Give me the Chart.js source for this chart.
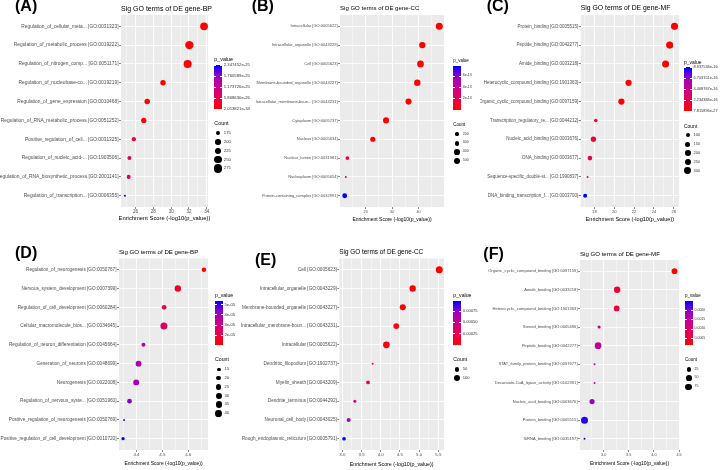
<!DOCTYPE html>
<html><head><meta charset="utf-8">
<script src="https://cdn.jsdelivr.net/npm/chart.js@4/dist/chart.umd.min.js"></script>
<style>
html,body{margin:0;padding:0;background:#fff}
body{width:720px;height:470px;position:relative;overflow:hidden;font-family:"Liberation Sans",Arial,sans-serif}
.panel{position:absolute;width:240px;height:235px;overflow:visible}
.panel canvas{position:absolute;left:0;top:0}
.t{position:absolute;white-space:nowrap;line-height:1;color:#000}
.plab{font-weight:bold;font-size:16px}
.axt{transform:translateX(-50%)}
.lgl{color:#333}
.bar{position:absolute;background:linear-gradient(to top,#FF0000 0%,#E8004F 25%,#C90089 50%,#9900C3 75%,#0000FF 100%)}
.btk{position:absolute;height:0.6px;background:#fff}
.dot{position:absolute;background:#000;border-radius:50%}
</style></head>
<body>
<script>
// ---------------- DATA ----------------
// Panel A : BP
const termsA = ["Regulation_of_cellular_meta... [GO:0031323]","Regulation_of_metabolic_process [GO:0019222]","Regulation_of_nitrogen_comp... [GO:0051171]","Regulation_of_nucleobase-co... [GO:0019219]","Regulation_of_gene_expression [GO:0010468]","Regulation_of_RNA_metabolic_process [GO:0051252]","Positive_regulation_of_cell... [GO:0031325]","Regulation_of_nucleic_acid-... [GO:1903506]","Regulation_of_RNA_biosynthetic_process [GO:2001141]","Regulation_of_transcription... [GO:0006355]"];
const scoreA = [33.69, 32.04, 31.85, 29.08, 27.31, 26.92, 25.81, 25.31, 25.23, 24.81];
const pvalA  = [2.013821e-34, 1.5e-32, 3.4e-32, 8.3e-30, 4.9e-28, 1.2e-27, 3.5e-26, 7.0e-26, 7.6e-26, 2.347452e-25];
const countA = [262, 285, 272, 200, 202, 196, 180, 177, 177, 165];
const tickValsA = [26, 28, 30, 32, 34];
const tickLabsA = ["26", "28", "30", "32", "34"];
const minorA = [25, 27, 29, 31, 33];
const pBreaksA = [2.013821e-34, 5.868630e-26, 1.173726e-25, 1.760589e-25, 2.347452e-25];
const pLabsA = ["2.013821e-34", "5.868630e-26", "1.173726e-25", "1.760589e-25", "2.347452e-25"];
const countLegA = [175, 200, 225, 250, 275];

// Panel B : CC
const termsB = ["Intracellular [GO:0005622]","Intracellular_organelle [GO:0043229]","Cell [GO:0005623]","Membrane-bounded_organelle [GO:0043227]","Intracellular_membrane-boun... [GO:0043231]","Cytoplasm [GO:0005737]","Nucleus [GO:0005634]","Nuclear_lumen [GO:0031981]","Nucleoplasm [GO:0005654]","Protein-containing_complex [GO:0032991]"];
const scoreB = [47.8, 41.4, 40.7, 39.5, 36.2, 27.7, 22.7, 13.1, 12.5, 12.1];
const pvalB  = [1.6e-48, 4.0e-42, 1.8e-41, 3.2e-40, 6.3e-37, 2.0e-28, 1.9e-23, 1.0e-13, 4.0e-13, 7.77e-13];
const countB = [605, 500, 550, 500, 455, 452, 335, 200, 147, 303];
const tickValsB = [20, 30, 40];
const tickLabsB = ["20", "30", "40"];
const minorB = [15, 25, 35, 45];
const pBreaksB = [2e-13, 4e-13, 6e-13];
const pLabsB = ["2e-13", "4e-13", "6e-13"];
const countLegB = [200, 300, 400, 500];

// Panel C : MF
const termsC = ["Protein_binding [GO:0005515]","Peptide_binding [GO:0042277]","Amide_binding [GO:0033218]","Heterocyclic_compound_binding [GO:1901363]","Organic_cyclic_compound_binding [GO:0097159]","Transcription_regulatory_re... [GO:0044212]","Nucleic_acid_binding [GO:0003676]","DNA_binding [GO:0003677]","Sequence-specific_double-st... [GO:1990837]","DNA_binding_transcription_f... [GO:0003700]"];
const scoreC = [26.07, 25.58, 25.17, 21.44, 20.72, 18.14, 17.90, 17.55, 17.31, 17.07];
const pvalC  = [7.815896e-27, 2.6e-26, 6.8e-26, 3.6e-22, 1.9e-21, 8.0e-17, 1.3e-16, 2.2e-16, 3.9e-16, 8.937534e-16];
const countC = [330, 318, 312, 239, 235, 76, 168, 129, 55, 99];
const tickValsC = [18, 20, 22, 24, 26];
const tickLabsC = ["18", "20", "22", "24", "26"];
const minorC = [17, 19, 21, 23, 25];
const pBreaksC = [7.815896e-27, 2.234384e-16, 4.468767e-16, 6.703151e-16, 8.937534e-16];
const pLabsC = ["7.815896e-27", "2.234384e-16", "4.468767e-16", "6.703151e-16", "8.937534e-16"];
const countLegC = [100, 150, 200, 250, 300];

// Panel D : BP
const termsD = ["Regulation_of_neurogenesis [GO:0050767]","Nervous_system_development [GO:0007399]","Regulation_of_cell_development [GO:0060284]","Cellular_macromolecule_bios... [GO:0034645]","Regulation_of_neuron_differentiation [GO:0045664]","Generation_of_neurons [GO:0048699]","Neurogenesis [GO:0022008]","Regulation_of_nervous_syste... [GO:0051960]","Positive_regulation_of_neurogenesis [GO:0050769]","Positive_regulation_of_cell_development [GO:0010720]"];
const scoreD = [4.661, 4.560, 4.507, 4.506, 4.427, 4.408, 4.399, 4.373, 4.352, 4.348];
const pvalD  = [1.00e-05, 1.52e-05, 2.05e-05, 2.45e-05, 3.60e-05, 3.90e-05, 4.00e-05, 4.45e-05, 5.02e-05, 5.37e-05];
const countD = [20, 36, 21, 43, 17, 30, 31, 21, 12, 14];
const tickValsD = [4.4, 4.5, 4.6];
const tickLabsD = ["4.4", "4.5", "4.6"];
const minorD = [4.35, 4.45, 4.55, 4.65];
const pBreaksD = [2e-5, 3e-5, 4e-5, 5e-5];
const pLabsD = ["2e-05", "3e-05", "4e-05", "5e-05"];
const countLegD = [15, 20, 25, 30, 35, 40];

// Panel E : CC
const termsE = ["Cell [GO:0005623]","Intracellular_organelle [GO:0043229]","Membrane-bounded_organelle [GO:0043227]","Intracellular_membrane-boun... [GO:0043231]","Intracellular [GO:0005622]","Dendritic_filopodium [GO:1902737]","Myelin_sheath [GO:0043209]","Dendrite_terminus [GO:0044292]","Neuronal_cell_body [GO:0043025]","Rough_endoplasmic_reticulum [GO:0005791]"];
const scoreE = [5.525, 4.832, 4.575, 4.404, 4.147, 3.788, 3.668, 3.325, 3.163, 3.043];
const pvalE  = [3.0e-06, 1.5e-05, 2.7e-05, 3.9e-05, 7.1e-05, 1.5e-04, 2.0e-04, 4.4e-04, 6.8e-04, 9.7e-04];
const countE = [135, 105, 92, 81, 119, 6, 21, 12, 27, 21];
const tickValsE = [3.0, 3.5, 4.0, 4.5, 5.0, 5.5];
const tickLabsE = ["3.0", "3.5", "4.0", "4.5", "5.0", "5.5"];
const minorE = [3.25, 3.75, 4.25, 4.75, 5.25];
const pBreaksE = [2.5e-4, 5.0e-4, 7.5e-4];
const pLabsE = ["0.00025", "0.00050", "0.00075"];
const countLegE = [50, 100];

// Panel F : MF
const termsF = ["Organic_cyclic_compound_binding [GO:0097159]","Amide_binding [GO:0033218]","Heterocyclic_compound_binding [GO:1901363]","Steroid_binding [GO:0005496]","Peptide_binding [GO:0042277]","STAT_family_protein_binding [GO:0097677]","Decanoate-CoA_ligase_activity [GO:0102391]","Nucleic_acid_binding [GO:0003676]","Protein_binding [GO:0005515]","SiRNA_binding [GO:0035197]"];
const scoreF = [4.41, 3.27, 3.26, 2.91, 2.89, 2.82, 2.82, 2.77, 2.62, 2.62];
const pvalF  = [1.4e-04, 5.6e-04, 6.2e-04, 1.04e-03, 1.44e-03, 1.25e-03, 1.27e-03, 1.90e-03, 2.38e-03, 2.50e-03];
const countF = [53, 69, 53, 8, 78, 4, 4, 38, 88, 4];
const tickValsF = [3.0, 3.5, 4.0, 4.5];
const tickLabsF = ["3.0", "3.5", "4.0", "4.5"];
const minorF = [2.75, 3.25, 3.75, 4.25];
const pBreaksF = [5e-4, 1e-3, 1.5e-3, 2e-3];
const pLabsF = ["0.0005", "0.0010", "0.0015", "0.0020"];
const countLegF = [25, 50, 75];

const titleBP = "Sig GO terms of DE gene-BP", titleCC = "Sig GO terms of DE gene-CC", titleMF = "Sig GO terms of DE gene-MF";
const xTitle = "Enrichment Score (-log10(p_value))";

// ---------------- RENDERING ----------------
const FONT = '"Liberation Sans", Arial, sans-serif';
const RMIN = 1.0;
const GRAD = [[255,0,0],[232,0,79],[201,0,137],[153,0,195],[0,0,255]];
function gradColor(t){
  t = Math.max(0, Math.min(1, t));
  const s = t*4, i = Math.min(3, Math.floor(s)), f = s - i, a = GRAD[i], b = GRAD[i+1];
  return 'rgb(' + a.map((v,k)=>Math.round(v + (b[k]-v)*f)).join(',') + ')';
}
function el(parent, cls, text, css){
  const e = document.createElement('div'); e.className = cls;
  if (text !== null) e.textContent = text;
  Object.assign(e.style, css); parent.appendChild(e); return e;
}
const bgPlugin = { id:'bg', beforeDraw(c){ const a=c.chartArea, x=c.ctx; x.save(); x.fillStyle='#EBEBEB'; x.fillRect(a.left,a.top,a.right-a.left,a.bottom-a.top); x.restore(); } };

function buildPanel(g, d){
  const W = 240, H = 235;
  const wrap = el(document.body, 'panel', null, {left:g.ox+'px', top:g.oy+'px'});
  const cv = document.createElement('canvas'); cv.width = W; cv.height = H;
  cv.style.width = W+'px'; cv.style.height = H+'px'; wrap.appendChild(cv);

  const pmin = Math.min(...d.p), pmax = Math.max(...d.p);
  const cmin = Math.min(...d.count), cmax = Math.max(...d.count);
  const rad = c => RMIN + (g.rmax-RMIN)*Math.sqrt(Math.max(0,(c-cmin)/(cmax-cmin)));
  const col = p => gradColor((p-pmin)/(pmax-pmin));
  const smin = Math.min(...d.score), smax = Math.max(...d.score), pad = (smax-smin)*0.05;
  const n = d.terms.length;
  const isMajor = v => d.ticks.some(t => Math.abs(t - v) < 1e-9);
  const fy = g.fy, fs = fy/4.7; // label font size and scale factor

  new Chart(cv, {
    type: 'bubble',
    data: { datasets: [{
      data: d.score.map((s,i)=>({x:s, y:i, r:rad(d.count[i])})),
      backgroundColor: d.p.map(col), borderWidth: 0, hoverBorderWidth: 0, hoverRadius: 0
    }]},
    options: {
      responsive:false, animation:false, events:[], devicePixelRatio:1,
      layout: { padding: { left:0, right:W-g.R, top:g.T, bottom:0 } },
      plugins: { legend:{display:false}, tooltip:{enabled:false} },
      scales: {
        x: {
          type:'linear', position:'bottom', min:smin-pad, max:smax+pad,
          afterBuildTicks: s => { s.ticks = d.ticks.concat(d.minor).sort((a,b)=>a-b).map(v=>({value:v})); },
          afterFit: s => { s.height = H - g.B; s.paddingLeft = 0; s.paddingRight = 0; },
          border: { display:false },
          grid: {
            color:'#FFFFFF',
            lineWidth: c => (c.tick && isMajor(c.tick.value)) ? 0.9 : 0.45,
            drawTicks:true, tickLength:2, tickWidth:0.6,
            tickColor: c => (c.tick && isMajor(c.tick.value)) ? '#333333' : 'rgba(0,0,0,0)'
          },
          ticks: {
            autoSkip:false, maxRotation:0, padding:0.5, color:'#4D4D4D',
            font:{ size:4.4*fs, family:FONT },
            callback: v => { const i = d.ticks.findIndex(t=>Math.abs(t-v)<1e-9); return i>=0 ? d.tickLabs[i] : ''; }
          }
        },
        y: {
          type:'linear', reverse:true, min:-0.6, max:n-0.4,
          afterBuildTicks: s => { s.ticks = d.terms.map((_,i)=>({value:i})); },
          afterFit: s => { s.width = g.L; s.paddingTop = 0; s.paddingBottom = 0; },
          border: { display:false },
          grid: { color:'#FFFFFF', lineWidth:0.9, drawTicks:true, tickLength:2, tickWidth:0.6, tickColor:'#333333' },
          ticks: {
            autoSkip:false, padding:0.5, color:'#4D4D4D',
            font:{ size:fy, family:FONT },
            callback: v => d.terms[Math.round(v)]
          }
        }
      }
    },
    plugins: [bgPlugin]
  });

  // Texts
  el(wrap, 't plab', g.lab, {left:g.labX+'px', top:(g.labBase-0.847*16)+'px'});
  el(wrap, 't', d.title, {left:g.L+'px', top:(g.titleY-0.49*g.ft)+'px', fontSize:g.ft+'px'});
  el(wrap, 't axt', xTitle, {left:((g.L+g.R)/2)+'px', top:(g.axisTitleY-0.49*g.fa)+'px', fontSize:g.fa+'px'});

  // p_value colour bar legend
  const lt = 5.2*fs, ll = 4.1*fs;
  const bw = 7.5, bh = 44, bx = g.barX, by = g.barTop;
  el(wrap, 't', 'p_value', {left:bx+'px', top:(by-5-0.49*lt)+'px', fontSize:lt+'px'});
  el(wrap, 'bar', null, {left:bx+'px', top:by+'px', width:bw+'px', height:bh+'px'});
  d.pBreaks.forEach((v,i)=>{
    const yy = by + bh - (v-pmin)/(pmax-pmin)*bh;
    el(wrap, 'btk', null, {left:bx+'px', top:(yy-0.3)+'px', width:(bw*0.2)+'px'});
    el(wrap, 'btk', null, {left:(bx+bw*0.8)+'px', top:(yy-0.3)+'px', width:(bw*0.2)+'px'});
    el(wrap, 't lgl', d.pLabs[i], {left:(bx+bw+2)+'px', top:(yy-0.49*ll)+'px', fontSize:ll+'px'});
  });
  // Count size legend
  const cty = by + bh + 15;
  el(wrap, 't', 'Count', {left:bx+'px', top:(cty-0.49*lt)+'px', fontSize:lt+'px'});
  d.countLeg.forEach((c,i)=>{
    const yy = cty + 9.3 + i*8.8, r = rad(c), cx = bx + bw/2;
    el(wrap, 'dot', null, {left:(cx-r)+'px', top:(yy-r)+'px', width:(2*r)+'px', height:(2*r)+'px'});
    el(wrap, 't lgl', String(c), {left:(bx+bw+2)+'px', top:(yy-0.49*ll)+'px', fontSize:ll+'px'});
  });
}

buildPanel({ox:0,oy:0,L:121,R:208,T:15,B:207,titleY:8,axisTitleY:219,lab:'(A)',labX:15,labBase:12,barX:214.3,barTop:65,fy:4.85,ft:7.0,fa:5.8,rmax:4.2},
  {terms:termsA,score:scoreA,p:pvalA,count:countA,ticks:tickValsA,tickLabs:tickLabsA,minor:minorA,pBreaks:pBreaksA,pLabs:pLabsA,countLeg:countLegA,title:titleBP});
buildPanel({ox:240,oy:0,L:100,R:204,T:15,B:207,titleY:8,axisTitleY:219.5,lab:'(B)',labX:11.7,labBase:12,barX:213.3,barTop:66,fy:4.0,ft:6.05,fa:5.0,rmax:3.5},
  {terms:termsB,score:scoreB,p:pvalB,count:countB,ticks:tickValsB,tickLabs:tickLabsB,minor:minorB,pBreaks:pBreaksB,pLabs:pLabsB,countLeg:countLegB,title:titleCC});
buildPanel({ox:480,oy:0,L:100.7,R:199,T:15,B:207,titleY:8,axisTitleY:219.5,lab:'(C)',labX:6.7,labBase:12,barX:204,barTop:67,fy:4.5,ft:6.85,fa:5.6,rmax:3.6},
  {terms:termsC,score:scoreC,p:pvalC,count:countC,ticks:tickValsC,tickLabs:tickLabsC,minor:minorC,pBreaks:pBreaksC,pLabs:pLabsC,countLeg:countLegC,title:titleMF});
buildPanel({ox:0,oy:235,L:119,R:208,T:23.5,B:215,titleY:17.3,axisTitleY:229.3,lab:'(D)',labX:15,labBase:24,barX:215,barTop:66,fy:4.7,ft:6.1,fa:4.95,rmax:3.5},
  {terms:termsD,score:scoreD,p:pvalD,count:countD,ticks:tickValsD,tickLabs:tickLabsD,minor:minorD,pBreaks:pBreaksD,pLabs:pLabsD,countLeg:countLegD,title:titleBP});
buildPanel({ox:240,oy:235,L:99.3,R:204,T:23.5,B:215,titleY:17.3,axisTitleY:229.3,lab:'(E)',labX:15,labBase:30.5,barX:213.3,barTop:66,fy:4.7,ft:6.4,fa:5.3,rmax:3.5},
  {terms:termsE,score:scoreE,p:pvalE,count:countE,ticks:tickValsE,tickLabs:tickLabsE,minor:minorE,pBreaks:pBreaksE,pLabs:pLabsE,countLeg:countLegE,title:titleCC});
buildPanel({ox:480,oy:235,L:100,R:199,T:25,B:215,titleY:19,axisTitleY:228.3,lab:'(F)',labX:3.3,labBase:25,barX:205,barTop:66,fy:4.05,ft:6.1,fa:5.0,rmax:3.5},
  {terms:termsF,score:scoreF,p:pvalF,count:countF,ticks:tickValsF,tickLabs:tickLabsF,minor:minorF,pBreaks:pBreaksF,pLabs:pLabsF,countLeg:countLegF,title:titleMF});
</script>
</body></html>
